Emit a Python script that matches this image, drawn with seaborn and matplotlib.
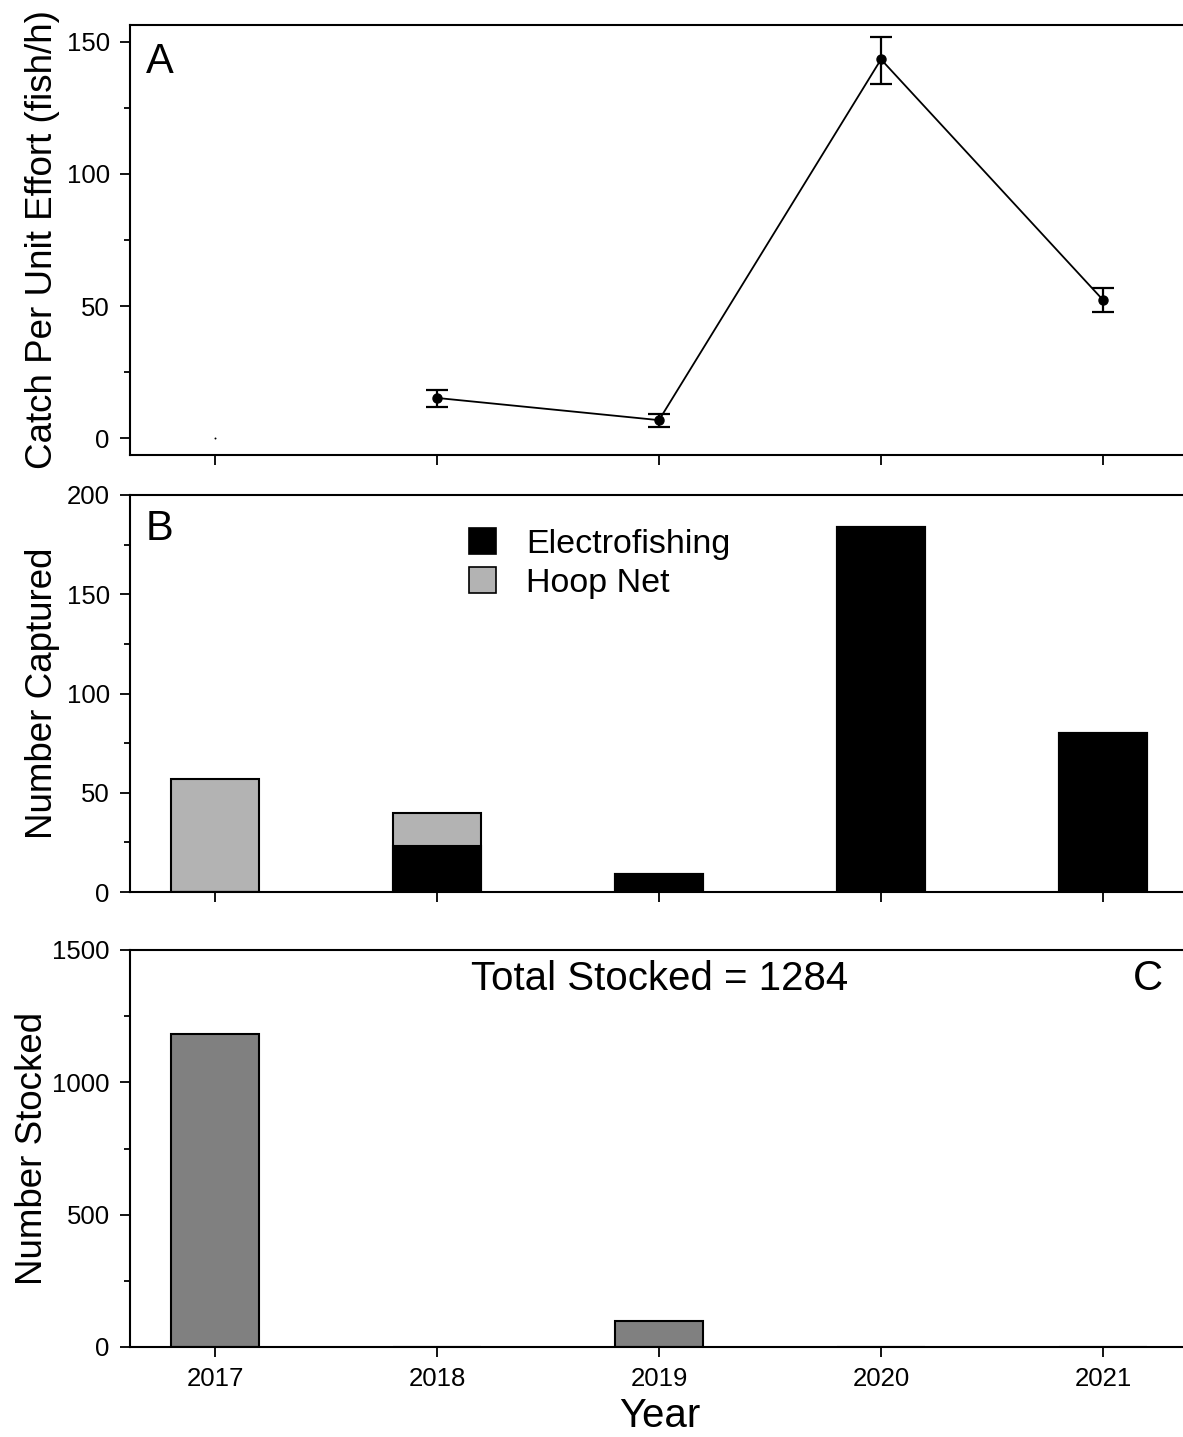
import numpy as np
import pandas as pd
import matplotlib
matplotlib.use("Agg")
import matplotlib.pyplot as plt
from matplotlib.ticker import MultipleLocator
from matplotlib.patches import Patch
import seaborn as sns

# ---- data ----
years = [2017, 2018, 2019, 2020, 2021]
cpue_mean = [0.0, 15.2, 6.8, 143.4, 52.3]
cpue_low = [0.0, 11.7, 4.2, 134.1, 47.7]
cpue_high = [0.0, 18.2, 9.1, 152.0, 56.8]
electrofishing = [0, 23, 9, 184, 80]
hoop_net = [57, 17, 0, 0, 0]
stocked = [1184, 0, 100, 0, 0]

sns.set_theme(style="ticks")
plt.rcParams["font.family"] = ["Liberation Sans", "DejaVu Sans"]
plt.rcParams["text.color"] = "black"
plt.rcParams["axes.labelcolor"] = "black"
plt.rcParams["axes.linewidth"] = 1.5
plt.rcParams["xtick.major.width"] = 1.3
plt.rcParams["ytick.major.width"] = 1.3
plt.rcParams["xtick.minor.width"] = 1.3
plt.rcParams["ytick.minor.width"] = 1.3
plt.rcParams["xtick.major.size"] = 7.5
plt.rcParams["ytick.major.size"] = 7.5
plt.rcParams["ytick.minor.size"] = 4.5
plt.rcParams["xtick.color"] = "black"
plt.rcParams["ytick.color"] = "black"
plt.rcParams["xtick.labelcolor"] = "black"
plt.rcParams["ytick.labelcolor"] = "black"
plt.rcParams["axes.edgecolor"] = "black"

W, H = 1183, 1437
fig = plt.figure(figsize=(W / 100, H / 100), dpi=100)

left = 130 / W
right_px = 1190


def axes_px(top, bottom):
    return fig.add_axes([left, 1 - bottom / H, (right_px - 130) / W, (bottom - top) / H])


axA = axes_px(25, 455)
axB = axes_px(495, 892)
axC = axes_px(950, 1347)

x_lo = 2017 - 85 / 222
x_hi = 2021 + (right_px - 1103) / 222

df = pd.DataFrame({
    "year": years,
    "cpue": cpue_mean,
    "lo": cpue_low,
    "hi": cpue_high,
    "ef": electrofishing,
    "hn": hoop_net,
    "total": np.array(electrofishing) + np.array(hoop_net),
    "stocked": stocked,
})

# ---- panel A: CPUE ----
sampled = df[df["year"] > 2017]
sns.lineplot(data=sampled, x="year", y="cpue", color="black", linewidth=1.3, ax=axA)
axA.errorbar(sampled["year"], sampled["cpue"],
             yerr=[sampled["cpue"] - sampled["lo"], sampled["hi"] - sampled["cpue"]],
             fmt="o", color="black", markersize=6.5, capsize=8, capthick=1.6,
             elinewidth=1.6, zorder=3)
first = df[df["year"] == 2017]
sns.scatterplot(data=first, x="year", y="cpue", color="black", s=2, linewidth=0, ax=axA)
axA.set_ylim(-6.4, 156.4)
axA.yaxis.set_major_locator(MultipleLocator(50))
axA.yaxis.set_minor_locator(MultipleLocator(25))
axA.set_ylabel("Catch Per Unit Effort (fish/h)", fontsize=26.5)
axA.yaxis.set_label_coords(-0.066, 0.5)

# ---- panel B: number captured ----
sns.barplot(data=df, x="year", y="total", native_scale=True, width=0.4,
            color="#b3b3b3", saturation=1, edgecolor="black", linewidth=1.5, ax=axB)
sns.barplot(data=df, x="year", y="ef", native_scale=True, width=0.4,
            color="black", saturation=1, edgecolor="black", linewidth=1.5, ax=axB)
axB.set_ylim(0, 200)
axB.yaxis.set_major_locator(MultipleLocator(50))
axB.yaxis.set_minor_locator(MultipleLocator(25))
axB.set_ylabel("Number Captured", fontsize=26.5)
axB.yaxis.set_label_coords(-0.066, 0.5)
handles = [Patch(facecolor="black", edgecolor="black", linewidth=1.2),
           Patch(facecolor="#b3b3b3", edgecolor="black", linewidth=1.2)]
axB.legend(handles, ["Electrofishing", "Hoop Net"], loc="upper left",
           bbox_to_anchor=(452 / W, 1 - 511 / H), bbox_transform=fig.transFigure,
           frameon=False, fontsize=24.5, handlelength=0.78, handleheight=0.78,
           handletextpad=0.9, labelspacing=0.22, borderpad=0)

# ---- panel C: number stocked ----
sns.barplot(data=df, x="year", y="stocked", native_scale=True, width=0.4,
            color="#808080", saturation=1, edgecolor="black", linewidth=1.5, ax=axC)
axC.set_ylim(0, 1500)
axC.yaxis.set_major_locator(MultipleLocator(500))
axC.yaxis.set_minor_locator(MultipleLocator(250))
axC.set_ylabel("Number Stocked", fontsize=26.5)
axC.yaxis.set_label_coords(-0.075, 0.5)
axC.set_xlabel("Year", fontsize=29, labelpad=4)

total_stocked = int(sum(stocked))
fig.text(660 / W, 1 - 990 / H, f"Total Stocked = {total_stocked}", fontsize=29,
         ha="center", va="baseline")

# ---- shared axis styling ----
for ax, letter, base_y in [(axA, "A", 73), (axB, "B", 540), (axC, "C", 990)]:
    ax.set_xlim(x_lo, x_hi)
    ax.set_xticks(years)
    ax.tick_params(axis="both", which="both", direction="out", labelsize=18.5, pad=7)
    ax.tick_params(axis="y", which="minor", left=True)
    ax.spines["right"].set_visible(False)
    ax.spines["top"].set_visible(True)
    ax.grid(False)
    if ax is not axC:
        ax.set_xlabel("")
        ax.set_xticklabels([])
    if letter == "C":
        fig.text(1148 / W, 1 - base_y / H, letter, fontsize=30, ha="center", va="baseline")
    else:
        fig.text(146 / W, 1 - base_y / H, letter, fontsize=30, ha="left", va="baseline")
axC.set_xticklabels([str(y) for y in years])

fig.savefig("out.png", dpi=100)
